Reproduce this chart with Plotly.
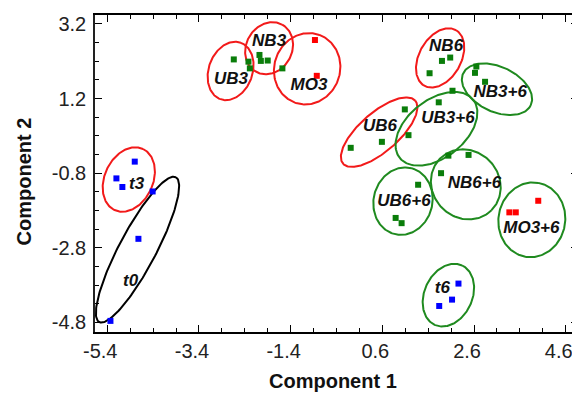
import numpy as np
import plotly.graph_objects as go

# ---- data ----
green_x = [-2.64, -2.32, -2.29, -2.08, -2.05, -1.90, -1.58,
           1.63, 1.90, 2.08,
           2.62, 2.65, 2.84,
           2.13, 1.83, 1.17,
           1.09, 0.59, -0.09,
           2.04, 2.48, 1.88,
           1.38, 0.89, 1.02]
green_y = [2.25, 2.19, 2.01, 2.37, 2.21, 2.22, 2.01,
           1.88, 2.21, 2.30,
           1.89, 2.06, 1.65,
           1.41, 1.10, 0.22,
           0.91, 0.04, -0.12,
           -0.33, -0.31, -0.80,
           -1.11, -2.00, -2.14]
red_x = [-0.87, -0.83, 3.37, 3.51, 4.00]
red_y = [2.77, 1.81, -1.85, -1.85, -1.54]
blue_x = [2.26, 2.12, 1.84, -4.80, -5.20, -5.07, -4.41, -4.72, -5.33]
blue_y = [-3.76, -4.19, -4.36, -0.49, -0.94, -1.17, -1.29, -2.56, -4.76]

# ellipses: centre and two conjugate half-axis vectors (data units)
ell_names = ["UB3", "NB3", "MO3", "NB6", "NB3+6", "UB6", "UB3+6",
             "NB6+6", "UB6+6", "MO3+6", "t6", "t3", "t0"]
ell_cx = [-2.71, -1.87, -1.04, 1.86, 3.10, 0.53, 1.78, 2.42, 1.05, 3.86, 2.04, -4.93, -4.74]
ell_cy = [1.94, 2.55, 2.00, 2.29, 1.45, 0.30, 0.39, -1.10, -1.55, -2.05, -4.07, -0.97, -2.85]
ell_ux = [0.223, 0.293, 0.267, 0.348, 0.738, 0.787, 0.804, 0.561, 0.191, 0.141, 0.300, 0.310, 0.836]
ell_uy = [0.756, 0.627, 0.907, 0.743, -0.425, 0.844, 0.776, -0.692, 0.880, 0.990, 0.795, 0.819, 1.941]
ell_vx = [-0.449, -0.433, -0.674, -0.395, 0.207, -0.278, -0.388, 0.515, -0.619, -0.717, -0.474, -0.478, -0.355]
ell_vy = [0.202, 0.308, 0.303, 0.282, 0.547, 0.395, 0.613, 0.635, 0.205, 0.156, 0.273, 0.275, 0.233]
ell_group = ["r", "r", "r", "r", "g", "r", "g", "g", "g", "g", "g", "r", "k"]

# label positions
lab_x = [-2.70, -1.87, -1.00, 1.99, 3.17, 0.55, 2.03, 2.61, 1.07, 3.85, 1.91, -4.76, -4.89]
lab_y = [1.70, 2.73, 1.54, 2.59, 1.36, 0.45, 0.67, -1.07, -1.56, -2.30, -3.89, -1.10, -3.71]

x_ticks = [-5.4, -3.4, -1.4, 0.6, 2.6, 4.6]
y_ticks = [-4.8, -2.8, -0.8, 1.2, 3.2]

# ---- styles ----
FONT = "Liberation Sans, Arial, sans-serif"
line_colors = {"r": "#f21a1a", "g": "#1f8a1f", "k": "#000000"}

fig = go.Figure()

t = np.linspace(0, 2 * np.pi, 181)
for i in range(len(ell_names)):
    ex = ell_cx[i] + ell_ux[i] * np.cos(t) + ell_vx[i] * np.sin(t)
    ey = ell_cy[i] + ell_uy[i] * np.cos(t) + ell_vy[i] * np.sin(t)
    fig.add_trace(go.Scatter(x=ex, y=ey, mode="lines",
                             line=dict(color=line_colors[ell_group[i]], width=2),
                             hoverinfo="skip", showlegend=False))

for xs, ys, col in [(green_x, green_y, "#0a7d0a"), (red_x, red_y, "#ff0000"),
                    (blue_x, blue_y, "#0000ff")]:
    fig.add_trace(go.Scatter(x=xs, y=ys, mode="markers",
                             marker=dict(symbol="square", size=6, color=col, line=dict(width=0)),
                             showlegend=False))

fig.add_trace(go.Scatter(x=lab_x, y=lab_y, mode="text",
                         text=["<b><i>%s</i></b>" % n for n in ell_names],
                         textfont=dict(family=FONT, size=17, color="#111111"),
                         textposition="middle center", showlegend=False, hoverinfo="skip"))

axis_common = dict(showgrid=False, zeroline=False, showline=True, mirror="allticks",
                   ticks="inside", ticklen=7, tickwidth=1, tickcolor="#000000",
                   tickfont=dict(family=FONT, size=20, color="#222222"))

fig.update_xaxes(range=[-5.667, 4.867], tickmode="array", tickvals=x_ticks,
                 ticktext=["%.1f" % v for v in x_ticks], ticklabelshift=-7,
                 minor=dict(tick0=-5.4, dtick=0.5, ticks="inside", ticklen=4, tickcolor="#000000"),
                 linecolor="#000000", linewidth=2, **axis_common)
fig.update_yaxes(range=[-5.058, 3.441], tickmode="array", tickvals=y_ticks,
                 ticktext=["%.1f" % v for v in y_ticks], ticklabelstandoff=3,
                 minor=dict(tick0=-4.8, dtick=0.5, ticks="inside", ticklen=4, tickcolor="#000000"),
                 linecolor="#222222", linewidth=1.5, **axis_common)

fig.add_annotation(text="<b>Component 1</b>", xref="paper", yref="paper",
                   x=0.4928, y=-0.1546, xanchor="center", yanchor="middle", showarrow=False,
                   font=dict(family=FONT, size=20, color="#111111"))
fig.add_annotation(text="<b>Component 2</b>", xref="paper", yref="paper",
                   x=-0.1464, y=0.476, xanchor="center", yanchor="middle", showarrow=False,
                   textangle=-90, font=dict(family=FONT, size=20, color="#111111"))

# page body adds an 8px offset, so the figure is 8px smaller than the window
fig.update_layout(width=572, height=386, margin=dict(l=87, r=0, t=7, b=62),
                  paper_bgcolor="white", plot_bgcolor="white", showlegend=False)

fig.write_html("out.html")
